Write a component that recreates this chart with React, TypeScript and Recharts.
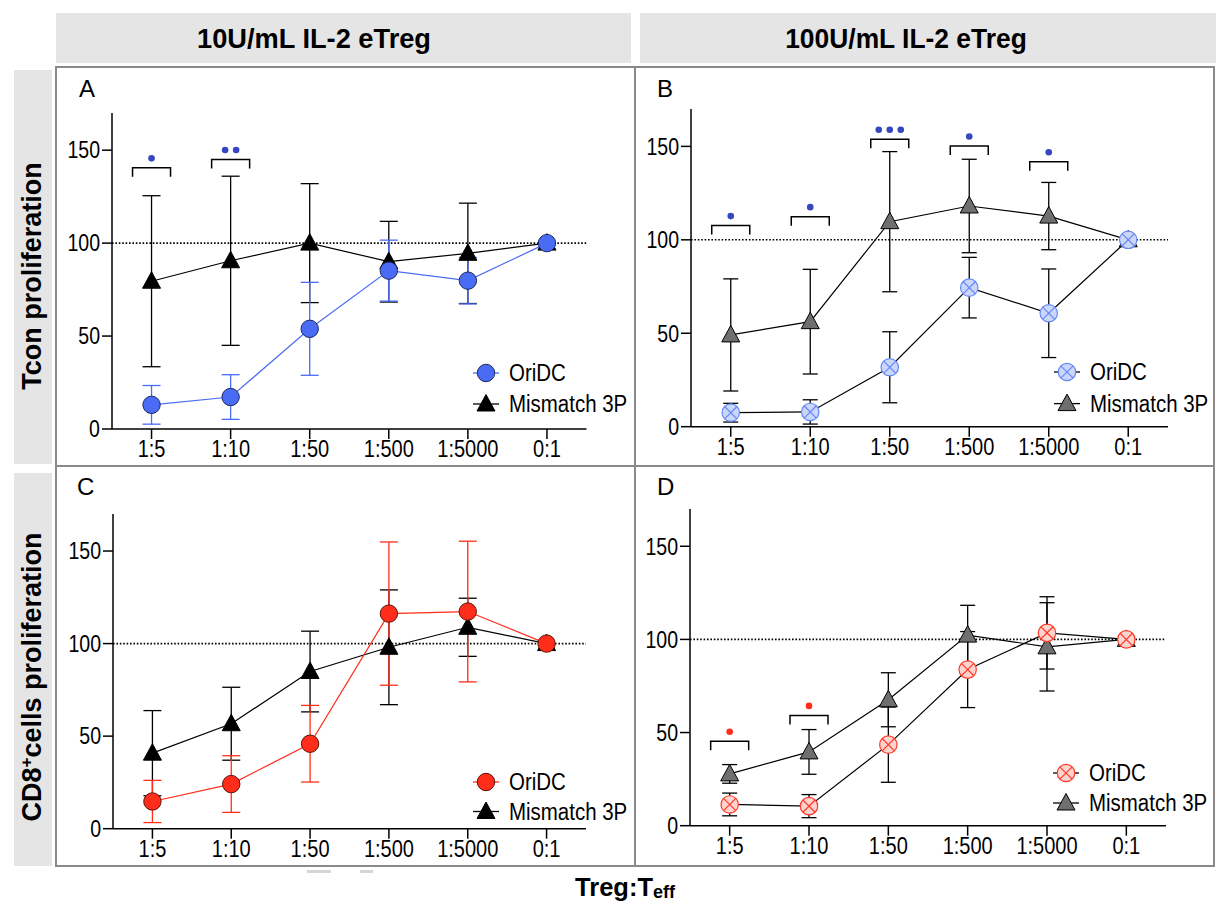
import React from "react";
import { ComposedChart, Line, XAxis, YAxis, ErrorBar, ReferenceLine, Legend } from "recharts";

const FONT = '"Liberation Sans", Arial, Helvetica, sans-serif';

const CATS = ["1:5", "1:10", "1:50", "1:500", "1:5000", "0:1"];
const Y_TICKS = [0, 50, 100, 150];

// A: Tcon, 10U/mL
const A_ORI = [13, 17.2, 53.9, 85.2, 79.8, 100];
const A_ORI_ERR = [10.4, 12, 25, 16.4, 12.5, 0];
const A_MIS = [79.5, 90.5, 100, 90, 94.5, 100];
const A_MIS_ERR = [46, 45.5, 32, 21.7, 27, 0];
const A_SIG = [140.5, 145, null, null, null, null];
const A_STARS = [1, 2, 0, 0, 0, 0];

// B: Tcon, 100U/mL
const B_ORI = [7.5, 7.9, 31.8, 74.4, 60.7, 100];
const B_ORI_ERR = [5, 6.5, 19, 16.2, 23.7, 0];
const B_MIS = [49.1, 56.2, 109.7, 118.1, 112.7, 100];
const B_MIS_ERR = [30, 28, 37.5, 25, 18, 0];
const B_SIG = [107.6, 112.4, 153.8, 150.2, 141.8, null];
const B_STARS = [1, 1, 3, 1, 1, 0];

// C: CD8, 10U/mL
const C_ORI = [14.7, 24.1, 45.9, 116.2, 117.3, 100];
const C_ORI_ERR = [11.4, 15.3, 20.7, 38.7, 38, 0];
const C_MIS = [40.8, 56.7, 84.9, 98, 108.8, 100];
const C_MIS_ERR = [23, 19.7, 21.8, 31, 15.7, 0];
const C_SIG = [null, null, null, null, null, null];
const C_STARS = [0, 0, 0, 0, 0, 0];

// D: CD8, 100U/mL
const D_ORI = [11.4, 10.5, 43.5, 83.8, 103.5, 100];
const D_ORI_ERR = [6.1, 6.2, 20.2, 20.4, 19.4, 0];
const D_MIS = [27.8, 39.6, 67.6, 102.3, 96, 100];
const D_MIS_ERR = [5, 12, 14.5, 16, 23.7, 0];
const D_SIG = [45.3, 59.2, null, null, null, null];
const D_STARS = [1, 1, 0, 0, 0, 0];

const rows = (ori, oriErr, mis, misErr, sig, stars) =>
  CATS.map((cat, i) => ({ cat, ori: ori[i], oriErr: oriErr[i], mis: mis[i], misErr: misErr[i], sig: sig[i], stars: stars[i] }));

const AX = { stroke: "#000", strokeWidth: 1.5 };

function marker(kind, cx, cy, s, key?) {
  if (kind === "circle") {
    return <circle key={key} cx={cx} cy={cy} r={8.7} fill={s.fill} stroke={s.stroke} strokeWidth={1} />;
  }
  if (kind === "cross") {
    const d = 8.7 * 0.707;
    return (
      <g key={key}>
        <circle cx={cx} cy={cy} r={8.7} fill={s.fill} stroke={s.stroke} strokeWidth={1.2} />
        <line x1={cx - d} y1={cy - d} x2={cx + d} y2={cy + d} stroke={s.stroke} strokeWidth={1.2} />
        <line x1={cx - d} y1={cy + d} x2={cx + d} y2={cy - d} stroke={s.stroke} strokeWidth={1.2} />
      </g>
    );
  }
  return (
    <path
      key={key}
      d={`M${cx},${cy - 9.5}L${cx + 9},${cy + 7}L${cx - 9},${cy + 7}Z`}
      fill={s.fill}
      stroke="#000"
      strokeWidth={1}
    />
  );
}

const dotFn = (kind, s) => (p) => {
  if (p.cx == null || p.cy == null) return <g key={`d${p.index}`} />;
  return marker(kind, p.cx, p.cy, s, `d${p.index}`);
};

const sigFn = (color) => (p) => {
  const row = p.payload;
  if (row.sig == null || p.cy == null) return <g key={`s${p.index}`} />;
  const { cx, cy } = p;
  const dots = [];
  for (let k = 0; k < row.stars; k++) {
    dots.push(<circle key={k} cx={cx + (k - (row.stars - 1) / 2) * 11} cy={cy - 9.5} r={3.3} fill={color} />);
  }
  return (
    <g key={`s${p.index}`}>
      <path d={`M${cx - 19},${cy + 9}V${cy}H${cx + 19}V${cy + 9}`} fill="none" stroke="#000" strokeWidth={1.5} />
      {dots}
    </g>
  );
};

const XTick = (p) => (
  <g transform={`translate(${p.x},${p.y}) scale(0.87,1)`}>
    <text x={0} y={0} dy="0.71em" textAnchor="middle" fontSize={23} fontFamily={FONT} fill="#000">
      {p.payload.value}
    </text>
  </g>
);

const YTick = (p) => (
  <g transform={`translate(${p.x},${p.y}) scale(0.85,1)`}>
    <text x={0} y={0} dy="0.36em" textAnchor="end" fontSize={23} fontFamily={FONT} fill="#000">
      {p.payload.value}
    </text>
  </g>
);

function LegendBox({ cfg }) {
  const g = cfg.legend.gap;
  const items = [
    { label: "OriDC", kind: cfg.oriKind, s: cfg.oriMarker, line: cfg.oriLine },
    { label: "Mismatch 3P", kind: "tri", s: cfg.misMarker, line: "#000" },
  ];
  return (
    <svg width={190} height={70} style={{ overflow: "visible" }}>
      {items.map((it, i) => {
        const cy = 14 + i * g;
        return (
          <g key={it.label}>
            <line x1={1} y1={cy} x2={27} y2={cy} stroke={it.line} strokeWidth={1.3} />
            {marker(it.kind, 14, cy, it.s)}
            <g transform={`translate(37,${cy}) scale(0.89,1)`}>
              <text x={0} y={0} dy="0.36em" fontSize={23} fontFamily={FONT} fill="#000">
                {it.label}
              </text>
            </g>
          </g>
        );
      })}
    </svg>
  );
}

function Panel({ cfg, data }) {
  const { l, r, t, b } = cfg.plot;
  const W = r - l;
  const H = b - t;
  const left = l - 60;
  const top = t - 10;
  const pad = W / 12;
  return (
    <div style={{ position: "absolute", left, top }}>
      <ComposedChart width={W + 70} height={H + 50} data={data} margin={{ top: 10, right: 10, bottom: 0, left: 0 }}>
        <XAxis
          dataKey="cat"
          padding={{ left: pad, right: pad }}
          interval={0}
          tickSize={10}
          tickMargin={2}
          height={40}
          axisLine={AX}
          tickLine={AX}
          tick={XTick}
        />
        <YAxis
          type="number"
          domain={[0, 170]}
          ticks={Y_TICKS}
          interval={0}
          tickSize={10}
          tickMargin={2}
          width={60}
          axisLine={AX}
          tickLine={AX}
          tick={YTick}
          allowDataOverflow
        />
        <ReferenceLine y={100} stroke="#000" strokeWidth={1.6} strokeDasharray="1.6 1.8" />
        <Line
          dataKey="mis"
          stroke="#000"
          strokeWidth={1.2}
          dot={dotFn("tri", cfg.misMarker)}
          activeDot={false}
          isAnimationActive={false}
        >
          <ErrorBar dataKey="misErr" width={cfg.cap} stroke="#000" strokeWidth={1.3} direction="y" />
        </Line>
        <Line
          dataKey="ori"
          stroke={cfg.oriLine}
          strokeWidth={1.2}
          dot={dotFn(cfg.oriKind, cfg.oriMarker)}
          activeDot={false}
          isAnimationActive={false}
        >
          <ErrorBar dataKey="oriErr" width={cfg.cap} stroke={cfg.oriErr} strokeWidth={1.3} direction="y" />
        </Line>
        <Line
          dataKey="sig"
          stroke="none"
          dot={sigFn(cfg.sig)}
          activeDot={false}
          legendType="none"
          isAnimationActive={false}
        />
        <Legend
          layout="vertical"
          align="center"
          verticalAlign="middle"
          wrapperStyle={{ left: cfg.legend.x - 14 - left, top: cfg.legend.y - 14 - top, width: 190, height: 70 }}
          content={() => <LegendBox cfg={cfg} />}
        />
      </ComposedChart>
    </div>
  );
}

const BLUE = "#4a6cf4";
const RED = "#ff2d1a";

const CFG_A = {
  plot: { l: 111.5, r: 586, t: 113.3, b: 429.3 },
  oriKind: "circle",
  oriMarker: { fill: BLUE, stroke: "#1c2a66" },
  oriLine: BLUE,
  oriErr: BLUE,
  misMarker: { fill: "#000" },
  cap: 9,
  sig: "#3546c2",
  legend: { x: 486, y: 373, gap: 31 },
};
const CFG_B = {
  plot: { l: 691, r: 1168, t: 109, b: 426.7 },
  oriKind: "cross",
  oriMarker: { fill: "#cbd6fb", stroke: "#6688f5" },
  oriLine: "#000",
  oriErr: "#000",
  misMarker: { fill: "#6f6f6f" },
  cap: 7.5,
  sig: "#3546c2",
  legend: { x: 1067, y: 371.7, gap: 31.6 },
};
const CFG_C = {
  plot: { l: 113, r: 586, t: 514.3, b: 829 },
  oriKind: "circle",
  oriMarker: { fill: RED, stroke: "#5a1208" },
  oriLine: RED,
  oriErr: RED,
  misMarker: { fill: "#000" },
  cap: 9,
  sig: RED,
  legend: { x: 486, y: 782.3, gap: 29.5 },
};
const CFG_D = {
  plot: { l: 690, r: 1166, t: 509, b: 825.7 },
  oriKind: "cross",
  oriMarker: { fill: "#fdd3ce", stroke: "#ff3a2a" },
  oriLine: "#000",
  oriErr: "#000",
  misMarker: { fill: "#6f6f6f" },
  cap: 7.5,
  sig: RED,
  legend: { x: 1066, y: 773.3, gap: 30 },
};

const abs = (s) => ({ position: "absolute" as const, ...s });
const GRAY = "#e5e5e5";
const FRAME = "#8a8a8a";

const headText = {
  fontFamily: FONT,
  fontWeight: 700,
  fontSize: 27.5,
  lineHeight: 1,
  whiteSpace: "nowrap" as const,
  color: "#000",
};

const letter = (ch, x, y) => (
  <div style={abs({ left: x, top: y - 3, fontFamily: FONT, fontSize: 24, lineHeight: "24px", color: "#000" })}>{ch}</div>
);

export default function App() {
  return (
    <div style={abs({ left: 0, top: 0, width: 1216, height: 901, background: "#fff", overflow: "hidden" })}>
      {/* column headers */}
      <div style={abs({ left: 56, top: 13, width: 575, height: 50, background: GRAY })} />
      <div style={abs({ left: 640, top: 13, width: 576, height: 50, background: GRAY })} />
      <div style={abs({ ...headText, left: 314, top: 38.5, transform: "translate(-50%,-50%) scaleX(0.99)" })}>
        10U/mL IL-2 eTreg
      </div>
      <div style={abs({ ...headText, left: 906, top: 38.5, transform: "translate(-50%,-50%) scaleX(0.96)" })}>
        100U/mL IL-2 eTreg
      </div>

      {/* row headers */}
      <div style={abs({ left: 14, top: 70, width: 38, height: 394, background: GRAY })} />
      <div style={abs({ left: 14, top: 473, width: 38, height: 393, background: GRAY })} />
      <div style={abs({ ...headText, fontSize: 27, left: 32, top: 276, transform: "translate(-50%,-50%) rotate(-90deg)" })}>
        Tcon proliferation
      </div>
      <div style={abs({ ...headText, fontSize: 27, left: 32, top: 677, transform: "translate(-50%,-50%) rotate(-90deg)" })}>
        CD8<sup style={{ fontSize: 17, verticalAlign: "9px" }}>+</sup>cells proliferation
      </div>

      {/* panel frame */}
      <div style={abs({ left: 55, top: 66, width: 1160, height: 801, border: `2px solid ${FRAME}`, boxSizing: "border-box" })} />
      <div style={abs({ left: 634, top: 66, width: 2, height: 801, background: FRAME })} />
      <div style={abs({ left: 55, top: 465, width: 1160, height: 2, background: FRAME })} />

      {letter("A", 79, 80)}
      {letter("B", 657, 80)}
      {letter("C", 77, 478)}
      {letter("D", 657, 478)}

      <Panel cfg={CFG_A} data={rows(A_ORI, A_ORI_ERR, A_MIS, A_MIS_ERR, A_SIG, A_STARS)} />
      <Panel cfg={CFG_B} data={rows(B_ORI, B_ORI_ERR, B_MIS, B_MIS_ERR, B_SIG, B_STARS)} />
      <Panel cfg={CFG_C} data={rows(C_ORI, C_ORI_ERR, C_MIS, C_MIS_ERR, C_SIG, C_STARS)} />
      <Panel cfg={CFG_D} data={rows(D_ORI, D_ORI_ERR, D_MIS, D_MIS_ERR, D_SIG, D_STARS)} />

      <div style={abs({ left: 307, top: 870, width: 24, height: 3, background: "#d6d6d6" })} />
      <div style={abs({ left: 360, top: 870, width: 13, height: 3, background: "#d6d6d6" })} />

      {/* bottom axis title */}
      <div style={abs({ ...headText, fontSize: 25.5, left: 625, top: 875, transform: "translateX(-50%)" })}>
        Treg:T<sub style={{ fontSize: 18, verticalAlign: "-2px" }}>eff</sub>
      </div>
    </div>
  );
}
